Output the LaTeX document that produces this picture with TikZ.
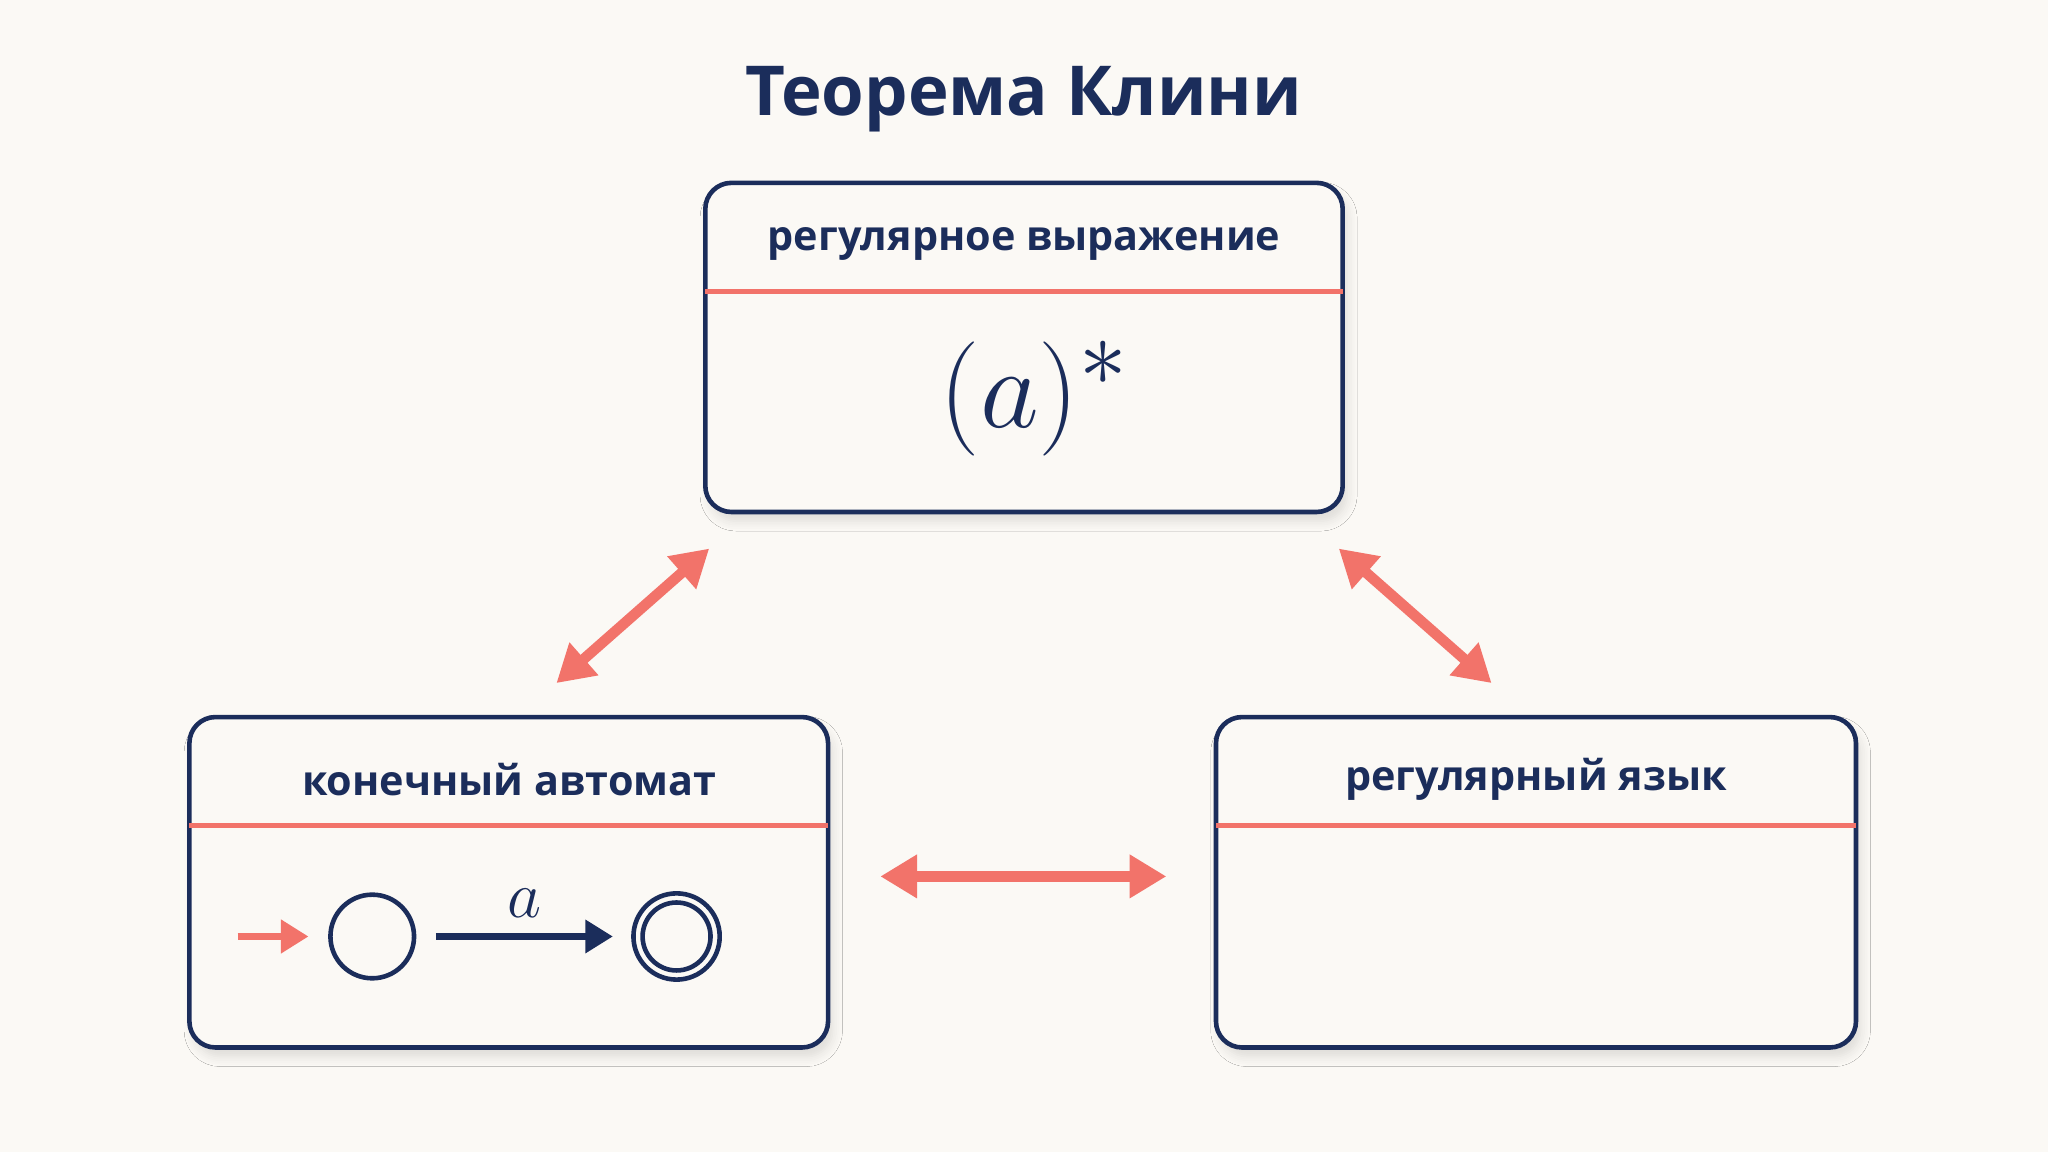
\documentclass[tikz,border=0pt]{standalone}
\usepackage{fontspec}
\setmainfont{Open Sans}
\usetikzlibrary{arrows.meta,shadows.blur}
\definecolor{navy}{HTML}{1B2D5B}
\definecolor{salmon}{HTML}{F2736A}
\definecolor{bg}{HTML}{FBF9F5}
\begin{document}
\begin{tikzpicture}[x=0.01cm,y=-0.01cm,
  box/.style={draw=navy,line width=1pt,rounded corners=0.2cm,fill=bg,blur shadow={shadow blur steps=6,shadow opacity=12,shadow xshift=1pt,shadow yshift=-2pt}},
  hdr/.style={font=\bfseries\fontsize{9}{12}\selectfont,text=navy},
  div/.style={draw=salmon,line width=1pt},
  biarrow/.style={draw=salmon,line width=2.3pt,{Triangle[length=8pt,width=9pt]}-{Triangle[length=8pt,width=9pt]}},
  st/.style={circle,draw=navy,line width=1pt,inner sep=0pt}]
\fill[bg] (0,0) rectangle (1568,882);
\useasboundingbox (0,0) rectangle (1568,882);
\node[font=\bfseries\fontsize{15}{19}\selectfont,text=navy] (title) at (784,76) {Теорема Клини};
% boxes
\draw[box] (540,140) rectangle (1028,392);
\draw[div] (540,223) -- (1028,223);
\node[hdr] (h1) at (784,187) {регулярное выражение};
\node[text=navy,font=\fontsize{28}{34}\selectfont] (re) at (792,305) {$(a)^{*}$};
\draw[box] (145,549) rectangle (634,802);
\draw[div] (145,632) -- (634,632);
\node[hdr] (h2) at (390,597) {конечный автомат};
\draw[box] (931,549) rectangle (1421,802);
\draw[div] (931,632) -- (1421,632);
\node[hdr] (h3) at (1176,597) {регулярный язык};
% arrows
\coordinate (a1) at (543,420); \coordinate (a2) at (426,523);
\coordinate (b1) at (1025,420); \coordinate (b2) at (1142,523);
\coordinate (c1) at (674,671); \coordinate (c2) at (893,671);
\draw[biarrow] (a1) -- (a2);
\draw[biarrow] (b1) -- (b2);
\draw[biarrow] (c1) -- (c2);
% automaton
\node[st,minimum size=0.64cm] (q0) at (285,717) {};
\node[st,minimum size=0.66cm] (q1) at (518,717) {};
\node[st,minimum size=0.52cm] (q1i) at (518,717) {};
\coordinate (start) at (182,717);
\draw[salmon,line width=1.6pt,-{Triangle[length=6pt,width=7pt]}] (start) -- ([xshift=-0.15cm]q0.west);
\draw[navy,line width=1.4pt,-{Triangle[length=6pt,width=7pt]}] ([xshift=0.15cm]q0.east) -- node[above,font=\fontsize{15}{18}\selectfont,text=navy,yshift=0pt] {$a$} ([xshift=-0.14cm]q1.west);
\end{tikzpicture}
\end{document}
